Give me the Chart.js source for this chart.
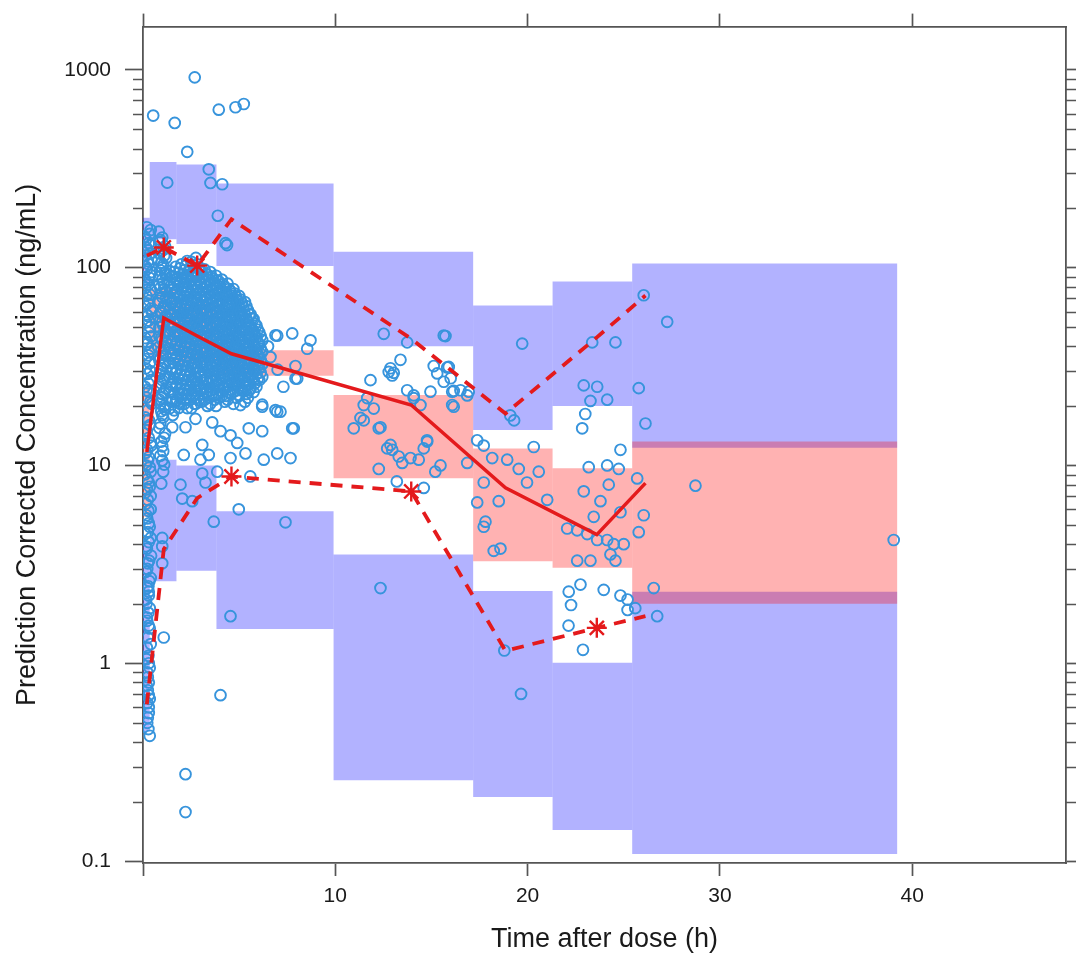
<!DOCTYPE html>
<html><head><meta charset="utf-8">
<script src="https://cdn.jsdelivr.net/npm/chart.js@4/dist/chart.umd.min.js"></script>
<style>html,body{margin:0;padding:0;background:#fff}#wrap{width:1076px;height:959px}</style>
</head><body><div id="wrap"><canvas id="c" width="1076" height="959"></canvas></div>
<script>
// ---------- data ----------
const xTicks = [0, 10, 20, 30, 40];
const yTicks = [0.1, 1, 10, 100, 1000];
const xRange = [0, 48];
const yRange = [0.0978, 1654];

// bin boundaries (h)
const binEdges = [0, 0.35, 1.74, 3.82, 9.91, 17.17, 21.30, 25.44, 39.22];
// simulated 95% CI of the 95th, 50th and 5th percentiles per bin
const ciUpperLo  = [80, 139, 131.5, 102, 40.1, 15.1, 20.0, 12.3];
const ciUpperHi  = [179, 342, 332, 266, 120.4, 64.4, 85.0, 105];
const ciMedianLo = [5.5, 36, 33, 28.4, 8.62, 3.28, 3.04, 2.0];
const ciMedianHi = [25, 78, 66, 38.2, 22.7, 12.2, 9.68, 13.2];
const ciLowerLo  = [0.45, 2.6, 2.94, 1.49, 0.256, 0.211, 0.1434, 0.1086];
const ciLowerHi  = [4.12, 10.7, 10.0, 5.86, 3.55, 2.32, 1.006, 2.30];

// observed percentiles per bin
const binTime = [0.2, 1.08, 2.82, 4.6, 13.95, 18.85, 23.6, 26.13];
const obsP95  = [115, 126.5, 102.4, 175.7, 43.7, 18.3, 44.4, 72.3];
const obsP50  = [11.7, 55.6, 45.1, 36.7, 20.2, 7.7, 4.47, 8.14];
const obsP05  = [0.62, 3.77, 6.84, 8.79, 7.39, 1.156, 1.51, 1.73];

// observations: dense early cloud, grouped by time
const denseColumns = [
 [1.40,[96,84,71,62,53,46,39,33,28,23.5,19.5]],
 [1.47,[90,77,66,57,49,42,36,30.5,25.5,21]],
 [1.55,[90,78,67,58,50,43,37,31,26,21.5,18]],
 [1.62,[95,82,70,60,52,45,38.5,33,27.5,23,19]],
 [1.70,[101,87,75,64,55,47,41,35,29.5,25,21]],
 [1.77,[88,76,65,56,48,41.5,35.5,30,25.5,21.5]],
 [1.85,[94,81,70,60,52,45,38,32.5,27.5,23,19.5]],
 [1.92,[99,85,73,63,54,46.5,40,34,29,24.5,20.5]],
 [2.00,[104,89,77,66,57,49,42,36,30.5,26,22]],
 [2.07,[93,80,69,59,51,44,37.5,32,27,23]],
 [2.15,[97,84,72,62,54,46,40,34,28.5,24,20.5]],
 [2.22,[102,88,75,65,56,48,41.5,35.5,30,25.5,21.5]],
 [2.30,[108,92,80,69,59,51,44,37.5,32,27,23,19.5]],
 [2.37,[96,83,71,61,52.5,45,39,33,28,24]],
 [2.45,[99,86,74,64,55,47.5,41,35,30,25.5,21.5]],
 [2.52,[107,93,80,69,59,51,44,37.5,32,27,23,19.5]],
 [2.60,[103,90,77,67,58,50,43,36.5,31,26.5,22.5]],
 [2.67,[95,82,70,60,52,45,38.5,33,28,24,20.5]],
 [2.75,[112,96,83,71,61,53,45,39,33,28,24,20.5]],
 [2.82,[104,90,77,66,57,49,42,36,31,26,22]],
 [2.90,[100,87,75,65,56,48,41,35.5,30,25.5,21.5]],
 [2.97,[97,83,71,61,52,45,38.5,33,28,24]],
 [3.05,[95,82,71,61,53,45.5,39,33.5,28.5,24.5,21]],
 [3.12,[90,78,67,58,50,43,37,31.5,27,23]],
 [3.20,[98,85,73,63,54,46.5,40,34.5,29.5,25,21.5]],
 [3.27,[93,80,69,59,51,44,37.5,32,27,23.5]],
 [3.35,[92,80,69,60,51,44,38,32.5,27.5,23.5,20]],
 [3.42,[87,75,65,56,48,41.5,35.5,30,26,22]],
 [3.50,[95,82,71,61,52.5,45,39,33,28,24,20.5]],
 [3.57,[90,78,67,58,50,43,37,31.5,27,23]],
 [3.65,[88,76,66,57,49,42,36,31,26.5,22.5]],
 [3.72,[83,72,62,53,46,39.5,34,29,25,21.5]],
 [3.80,[91,79,68,59,50.5,43.5,37.5,32,27,23,20]],
 [3.87,[86,74,64,55,47.5,41,35,30,25.5]],
 [3.95,[85,74,64,55,47,40.5,35,30,25.5,22]],
 [4.02,[80,69,60,52,44.5,38.5,33,28,24]],
 [4.10,[87,75,65,56,48,41.5,35.5,30.5,26,22.5]],
 [4.17,[82,71,61,52.5,45,39,33.5,28.5,24.5]],
 [4.25,[80,70,60,52,45,38.5,33,28.5,24.5,21]],
 [4.32,[75,65,56,48,41.5,36,31,26.5,22.5]],
 [4.40,[83,72,62,53.5,46,39.5,34,29,25,21.5]],
 [4.47,[78,67,58,50,43,37,32,27.5,23.5]],
 [4.55,[76,66,57,49,42.5,36.5,31.5,27,23]],
 [4.62,[72,62,54,46.5,40,34.5,29.5,25.5]],
 [4.70,[78,67,58,50,43,37,32,27.5,23.5,20.5]],
 [4.77,[74,64,55,47.5,41,35.5,30.5,26]],
 [4.85,[71,62,53.5,46,40,34.5,29.5,25.5,22]],
 [4.92,[68,59,51,44,38,32.5,28,24]],
 [5.00,[72,63,54,47,40.5,35,30,26,22.5]],
 [5.07,[69,60,52,45,38.5,33,28.5,24.5]],
 [5.15,[66,57.5,50,43,37,32,27.5,24]],
 [5.22,[63,55,47.5,41,35.5,30.5,26]],
 [5.30,[67,58,50,43.5,37.5,32.5,28,24,21]],
 [5.37,[64,55.5,48,41.5,36,31,26.5,23]],
 [5.45,[61,53,46,40,34.5,29.5,25.5,22]],
 [5.52,[58,50,43.5,37.5,32.5,28,24]],
 [5.60,[58,50.5,44,38,33,28.5,24.5]],
 [5.67,[55.5,48,42,36.5,31.5,27.5]],
 [5.75,[55,48,41.5,36,31,27,23.5]],
 [5.82,[52,45.5,39.5,34.5,30,26]],
 [5.90,[51,44.5,38.5,33.5,29,25]],
 [5.97,[48.5,42,36.5,32,27.5]],
 [6.05,[47,41,35.5,31,27]],
 [6.12,[45,39,34,29.5]],
 [6.20,[43,37.5,32.5,28]]
];
// observations: individual points (time h, concentration ng/mL)
const scatteredObs = [
 [2.69,916],[0.53,587],[1.65,539],[3.94,629],[4.81,647],[5.24,672],[2.30,385],[3.42,314],[1.26,269],[3.51,268],[4.12,264],[3.89,183],[0.82,152],[4.37,130],[4.29,133],
 [0.2,160],[0.35,148],[0.15,138],[0.4,130],[0.25,122],[0.12,115],[0.45,110],[0.3,104],[0.2,98],[0.38,92],[0.1,87],[0.28,82],[0.42,77],[0.18,72],[0.33,68],[0.1,64],[0.45,60],[0.25,57],[0.15,53],[0.38,50],[0.3,47],[0.12,44],[0.2,41],[0.42,39],[0.28,36],[0.35,33],[0.15,31],[0.22,29],[0.4,27],[0.1,25],[0.3,23.5],[0.18,22],[0.45,20.5],[0.25,19],[0.12,17.5],[0.36,16],[0.2,15],[0.3,13.8],[0.42,12.6],[0.15,11.6],[0.25,10.6],[0.35,9.8],[0.1,9],[0.3,8.2],[0.2,7.6],[0.4,7],[0.15,6.4],[0.28,5.9],[0.22,5.4],[0.35,4.9],[0.12,4.5],[0.3,4.1],[0.2,3.8],[0.42,3.5],[0.25,3.2],[0.15,2.9],[0.33,2.6],[0.22,2.4],[0.3,2.2],[0.18,2.0],[0.28,1.8],[0.22,1.64],[0.35,1.5],[0.25,1.35],[0.2,1.2],[0.28,1.09],[0.3,1.0],[0.22,0.9],[0.3,0.8],[0.25,0.73],[0.35,0.66],[0.3,0.6],[0.25,0.53],[0.28,0.465],[0.35,0.43],
 [0.4,155],[0.1,143],[0.3,133],[0.18,126],[0.38,118],[0.25,108],[0.15,101],[0.45,95],[0.33,89],[0.2,84],[0.12,79],[0.36,73],[0.25,66],[0.4,62],[0.18,58],[0.3,54],[0.42,45],[0.22,42],[0.32,37.5],[0.12,34.5],[0.38,30],[0.28,26],[0.18,24],[0.38,21],[0.3,17],[0.1,14.5],[0.4,13],[0.22,12],[0.3,11],[0.15,10],[0.4,9.3],[0.22,8.5],[0.35,7.8],[0.12,7.3],[0.25,6.7],[0.4,6.0],[0.18,5.6],[0.3,5.1],[0.25,4.6],[0.4,4.3],[0.15,3.9],[0.32,3.3],[0.22,3.0],[0.4,2.7],[0.28,2.45],[0.15,2.1],[0.35,1.9],[0.2,1.7],[0.3,1.55],[0.4,1.25],[0.18,1.05],[0.35,0.95],[0.25,0.85],[0.2,0.77],[0.3,0.69],[0.22,0.63],[0.3,0.56],[0.22,0.5],
 [1.0,142],[0.85,135],[1.15,128],[0.95,121],[1.1,115],[0.8,109],[1.05,103],[0.9,97],[1.2,92],[1.0,87],[0.85,82],[1.1,78],[0.95,74],[1.2,70],[0.8,66],[1.05,62],[0.9,59],[1.15,56],[1.0,53],[0.85,50],[1.1,47],[0.95,44],[1.2,42],[0.8,39.5],[1.05,37],[0.9,35],[1.15,33],[1.0,31],[0.85,29],[1.1,27.5],[0.95,26],[1.2,24.5],[1.0,23],[0.85,21.5],[1.1,20],[0.95,18.8],[1.05,17.5],[0.9,16.3],[1.15,14.5],[0.95,13.2],[1.05,11.8],[1.0,10.6],[1.05,9.3],[0.95,8.1],[1.0,4.3],[1.0,3.9],[1.0,3.2],[1.08,1.35],
 [0.9,138],[1.1,124],[0.85,118],[1.2,112],[0.95,106],[1.0,100],[1.15,94],[0.85,90],[1.05,84],[0.9,79],[1.2,76],[1.0,71],[0.85,68],[1.1,64],[0.95,60],[1.2,57],[0.9,54],[1.05,51],[1.15,48],[0.85,45],[1.0,43],[1.1,40],[0.95,38],[1.2,36],[0.85,34],[1.05,32],[0.9,30],[1.15,28.5],[1.0,27],[0.9,25],[1.1,23.5],[1.0,22],[0.9,20.5],[1.15,19.2],[1.0,18],[0.85,15.5],[1.1,13.8],[1.0,12.5],[0.9,11.2],[1.1,10.1],
 [6.89,45.5],[7.76,46.5],[8.71,42.9],[8.54,38.9],[6.63,35.3],[7.93,27.5],[6.2,20.3],[6.89,19.05],[5.07,20.2],[7.93,31.8],[6.98,45.3],[6.5,40],[7.0,30.5],[7.3,25],[8.02,27.5],[7.15,18.7],[7.84,15.4],
 [1.52,15.6],[2.21,15.6],[2.73,17.2],[3.6,16.5],[4.03,14.9],[4.55,14.2],[4.9,13.0],[5.5,15.4],[6.2,14.9],[6.2,19.8],[6.98,18.7],[7.76,15.4],[3.08,12.7],[2.12,11.3],[3.42,11.3],[2.99,10.7],[4.55,10.9],[5.33,11.5],[6.28,10.7],[6.98,11.5],[7.67,10.9],[1.95,8.0],[3.08,9.1],[3.25,8.2],[3.86,9.3],[2.04,6.8],[2.56,6.6],[4.98,6.0],[3.68,5.2],[7.41,5.16],[5.58,8.8],[0.3,2.3],
 [4.03,0.69],[4.55,1.73],[2.21,0.275],[2.21,0.177],
 [12.52,46.3],[13.74,41.9],[15.73,45.1],[19.72,41.3],[11.83,27.0],[12.78,29.7],[12.96,28.5],[13.39,34.2],[13.74,24.0],[14.08,21.9],[14.95,23.6],[15.3,29.2],[15.64,26.5],[15.9,31.5],[16.08,23.6],[16.16,19.8],[16.51,24.0],[16.94,23.6],[11.48,20.2],[10.96,15.4],[11.48,16.9],[12.26,15.4],[12.7,12.2],[12.96,12.0],[13.3,11.1],[13.48,10.3],[13.91,10.9],[12.26,9.6],[14.34,10.7],[14.77,13.4],[14.6,12.2],[15.47,10.0],[15.2,9.3],[16.86,10.3],[13.2,8.3],[14.6,7.7],
 [12.87,31.0],[13.04,29.4],[15.12,31.8],[15.82,31.3],[16.0,27.6],[16.16,23.8],[14.08,22.6],[16.86,22.6],[16.08,20.2],[14.43,20.2],[11.66,21.9],[12.0,19.4],[11.31,17.4],[12.35,15.6],[12.87,12.7],[14.78,13.2],[15.64,45.4],[12.35,2.4],
 [17.38,13.4],[17.72,12.6],[18.16,10.9],[18.94,10.7],[19.54,9.6],[20.32,12.4],[20.58,9.3],[17.72,8.2],[19.97,8.2],[17.38,6.5],[18.5,6.6],[17.81,5.2],[17.72,4.9],[18.24,3.7],[18.59,3.8],[19.3,16.9],[19.1,17.9],[18.79,1.16],[19.66,0.70],
 [21.02,6.7],[22.92,7.4],[23.18,9.8],[24.14,10.0],[24.83,12.0],[24.74,9.6],[24.22,8.0],[23.79,6.6],[23.44,5.5],[22.06,4.8],[22.58,4.7],[23.1,4.5],[23.62,4.2],[24.14,4.2],[24.48,4.0],[25.0,4.0],[24.83,5.8],[24.31,3.55],[24.57,3.3],[22.58,3.3],[23.27,3.3],[22.14,2.3],[22.75,2.5],[23.96,2.35],[24.83,2.2],[22.92,25.4],[23.27,21.2],[23.0,18.2],[22.84,15.4],[23.62,25.0],[24.14,21.5],[23.36,41.9],[24.57,41.9],[22.13,1.55],[22.88,1.17],[22.26,1.97],
 [26.04,72.5],[27.26,53.2],[25.78,24.6],[26.13,16.3],[25.7,8.6],[26.04,5.6],[25.78,4.6],[26.56,2.4],[28.73,7.9],[39.04,4.2],[25.2,2.1],[25.6,1.9],[26.74,1.73],[25.2,1.86]
];

// ---------- styling ----------
const FONT = '"Liberation Sans", Arial, Helvetica, sans-serif';
const AXIS = '#555';
const TEXT = '#1a1a1a';
const RED = 'rgb(228,26,28)';
const BLUE_FILL = 'rgba(0,0,255,0.3)';
const RED_FILL = 'rgba(255,0,0,0.3)';
const CIRCLE = 'rgb(55,148,220)';

// ---------- build datasets ----------
function boxSets(lo, hi, color, order) {
  return lo.map((l, i) => ({
    data: [
      {x: binEdges[i], y: l}, {x: binEdges[i+1], y: l},
      {x: binEdges[i+1], y: hi[i]}, {x: binEdges[i], y: hi[i]}, {x: binEdges[i], y: l}
    ],
    showLine: true, fill: 'shape', backgroundColor: color,
    borderWidth: 0, borderColor: 'rgba(0,0,0,0)', pointRadius: 0, order
  }));
}
function pctLine(vals, lo, hi, dashed) {
  const flag = vals.map((v, i) => v < lo[i] || v > hi[i]);
  return {
    data: binTime.map((t, i) => ({x: t, y: vals[i]})),
    showLine: true, fill: false, tension: 0,
    borderColor: RED, borderWidth: dashed ? 3.8 : 3.5,
    borderDash: dashed ? [12, 9] : [],
    pointStyle: 'star',
    pointRadius: ctx => flag[ctx.dataIndex] ? 10 : 0,
    pointBorderColor: RED, pointBackgroundColor: RED, pointBorderWidth: 2.4,
    order: 0
  };
}
const obsData = [];
denseColumns.forEach(([t, cs]) => cs.forEach(c => obsData.push({x: t, y: c})));
scatteredObs.forEach(([t, c]) => obsData.push({x: t, y: c}));

const datasets = [
  pctLine(obsP50, ciMedianLo, ciMedianHi, false),
  pctLine(obsP95, ciUpperLo, ciUpperHi, true),
  pctLine(obsP05, ciLowerLo, ciLowerHi, true),
  {data: obsData, showLine: false, pointStyle: 'circle', pointRadius: 5.4,
   pointBorderWidth: 1.9, pointBorderColor: CIRCLE, pointBackgroundColor: 'rgba(0,0,0,0)', order: 1},
  ...boxSets(ciMedianLo, ciMedianHi, RED_FILL, 2),
  ...boxSets(ciUpperLo, ciUpperHi, BLUE_FILL, 3),
  ...boxSets(ciLowerLo, ciLowerHi, BLUE_FILL, 3)
];

// minor log ticks on left and right axes
const minorTicks = {
  id: 'minorTicks',
  afterDraw(chart) {
    const {ctx} = chart, y = chart.scales.y, y2 = chart.scales.y2;
    ctx.save(); ctx.strokeStyle = AXIS; ctx.lineWidth = 1.5;
    for (let e = -2; e <= 3; e++) for (let m = 2; m <= 9; m++) {
      const v = m * Math.pow(10, e);
      if (v < yRange[0] || v > yRange[1]) continue;
      const p = Math.round(y.getPixelForValue(v)) + 0.5;
      ctx.beginPath();
      ctx.moveTo(y.right - 10, p); ctx.lineTo(y.right, p);
      ctx.moveTo(y2.left, p); ctx.lineTo(y2.left + 10, p);
      ctx.stroke();
    }
    ctx.restore();
  }
};

const gridOpts = len => ({display: true, drawOnChartArea: false, drawTicks: true, tickLength: len, tickColor: AXIS, tickWidth: 1.7});
const borderOpts = {display: true, color: AXIS, width: 1.8};

new Chart(document.getElementById('c'), {
  type: 'scatter',
  data: {datasets},
  options: {
    responsive: false, animation: false, events: [],
    layout: {padding: 0},
    plugins: {legend: {display: false}, tooltip: {enabled: false}},
    scales: {
      x: {
        type: 'linear', position: 'bottom', min: xRange[0], max: xRange[1],
        afterBuildTicks: s => { s.ticks = xTicks.map(v => ({value: v})); },
        afterFit: s => { s.height = 96; },
        ticks: {callback: v => v === 0 ? '' : String(v), font: {family: FONT, size: 21}, color: TEXT, padding: 8, maxRotation: 0, autoSkip: false},
        grid: gridOpts(13), border: borderOpts,
        title: {display: true, text: 'Time after dose (h)', font: {family: FONT, size: 27, lineHeight: 1}, color: TEXT, padding: {top: 0, bottom: 6}}
      },
      x2: {
        type: 'linear', position: 'top', min: xRange[0], max: xRange[1],
        afterBuildTicks: s => { s.ticks = xTicks.map(v => ({value: v})); },
        afterFit: s => { s.height = 23; },
        ticks: {display: false}, grid: gridOpts(13), border: borderOpts
      },
      y: {
        type: 'logarithmic', position: 'left', min: yRange[0], max: yRange[1],
        afterBuildTicks: s => { s.ticks = yTicks.map(v => ({value: v})); },
        afterFit: s => { s.width = 143; },
        ticks: {callback: v => String(v), font: {family: FONT, size: 21}, color: TEXT, padding: 14, autoSkip: false},
        grid: gridOpts(18), border: borderOpts,
        title: {display: true, text: 'Prediction Corrected Concentration (ng/mL)', font: {family: FONT, size: 27, lineHeight: 1}, color: TEXT, padding: {top: 14, bottom: 0}}
      },
      y2: {
        type: 'logarithmic', position: 'right', min: yRange[0], max: yRange[1],
        afterBuildTicks: s => { s.ticks = yTicks.map(v => ({value: v})); },
        afterFit: s => { s.width = 10; },
        ticks: {display: false}, grid: gridOpts(10), border: borderOpts
      }
    }
  },
  plugins: [minorTicks]
});
</script>
</body></html>
